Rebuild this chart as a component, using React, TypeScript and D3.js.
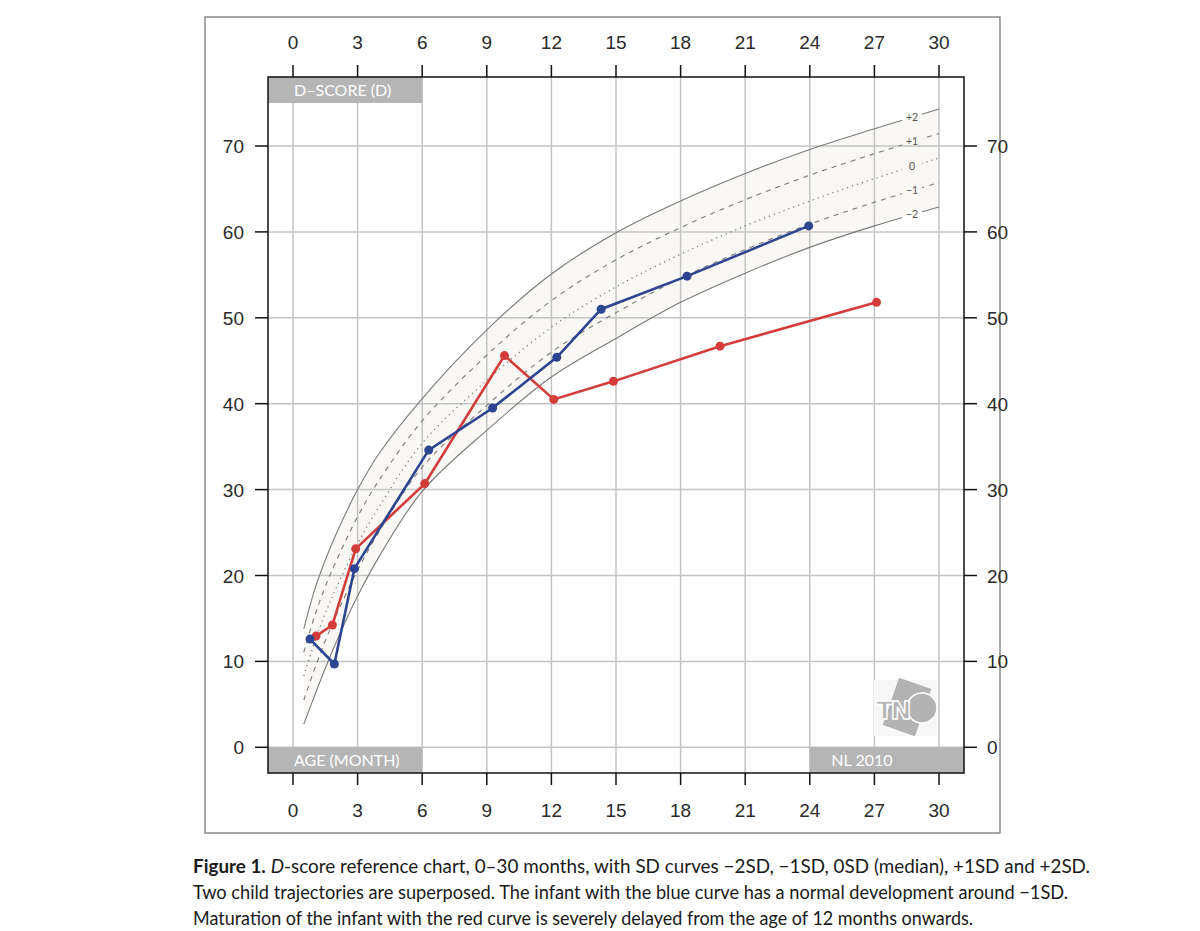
import React from "react";
import * as d3 from "d3";

// Reference curves (D-score by age in months), SD lines -2..+2
const refAges = [0.5, 1, 1.5, 2, 3, 4, 6, 9, 12, 15, 18, 21, 24, 27, 30];
const sdPlus2 = [13.8, 18.3, 21.8, 24.8, 30.0, 34.2, 40.6, 48.6, 55.1, 59.9, 63.6, 66.8, 69.6, 72.0, 74.3];
const sdPlus1 = [11.05, 15.25, 18.7, 21.65, 26.85, 31.1, 38.0, 45.65, 52.0, 56.75, 60.5, 63.75, 66.6, 69.1, 71.45];
const sdZero = [8.3, 12.2, 15.6, 18.5, 23.7, 28.0, 35.4, 42.7, 48.9, 53.6, 57.4, 60.7, 63.6, 66.2, 68.6];
const sdMinus1 = [5.5, 9.1, 12.4, 15.35, 20.6, 25.1, 32.6, 39.8, 46.0, 50.6, 54.6, 57.95, 60.9, 63.45, 65.75];
const sdMinus2 = [2.7, 6.0, 9.2, 12.2, 17.6, 22.2, 29.8, 36.9, 43.1, 47.6, 51.8, 55.2, 58.2, 60.7, 62.9];

// Child trajectories
const blueAges = [0.79, 1.92, 2.85, 6.3, 9.27, 12.25, 14.31, 18.3, 23.95];
const blueScores = [12.6, 9.7, 20.8, 34.6, 39.5, 45.4, 51.0, 54.85, 60.7];
const redAges = [1.07, 1.83, 2.91, 6.12, 9.82, 12.11, 14.88, 19.83, 27.1];
const redScores = [12.95, 14.24, 23.1, 30.7, 45.6, 40.5, 42.6, 46.7, 51.8];

// Axis ticks
const monthTicks = [0, 3, 6, 9, 12, 15, 18, 21, 24, 27, 30];
const scoreTicks = [0, 10, 20, 30, 40, 50, 60, 70];

const sdLabels = ["+2", "+1", "0", "\u22121", "\u22122"];
const captionLine2 = "Two child trajectories are superposed. The infant with the blue curve has a normal development around \u22121SD.";
const captionLine3 = "Maturation of the infant with the red curve is severely delayed from the age of 12 months onwards.";

const W = 1200;
const H = 931;
const box = { left: 268, right: 964, top: 77, bottom: 773 };
const x = d3.scaleLinear().domain([0, 30]).range([293, 939]);
const y = d3.scaleLinear().domain([0, 70]).range([747.3, 146]);

const BLUE = "#2d4590";
const RED = "#d43c3c";
const GRID = "#c4c4c4";
const CURVE = "#7a7a7a";
const LABEL_AGE = 28.75;
const tickFont = "'Liberation Sans', Arial, sans-serif";
const boxFont = "Lato, 'Open Sans', sans-serif";
const smooth = d3.curveCatmullRom.alpha(0.5);

function interp(vals: number[], age: number) {
  const i = d3.bisectRight(refAges, age) - 1;
  const a0 = refAges[i], a1 = refAges[i + 1];
  const t = (age - a0) / (a1 - a0);
  return vals[i] + t * (vals[i + 1] - vals[i]);
}

export default function App() {
  const sdSeries = [sdPlus2, sdPlus1, sdZero, sdMinus1, sdMinus2];
  const dashes = [null, "5,5", "1.2,4", "5,5", null];

  const lineGen = (vals: number[]) =>
    d3
      .line<number>()
      .x((_, i) => x(refAges[i]))
      .y((v) => y(v))
      .curve(smooth)(vals) || "";

  const band =
    d3
      .area<number>()
      .x((_, i) => x(refAges[i]))
      .y0((_, i) => y(sdMinus2[i]))
      .y1((v) => y(v))
      .curve(smooth)(sdPlus2) || "";

  const traj = (ages: number[], vals: number[]) =>
    d3
      .line<number>()
      .x((a) => x(a))
      .y((_, i) => y(vals[i]))(ages) || "";

  const labelPos = sdSeries.map((s) => ({ cx: x(LABEL_AGE), cy: y(interp(s, LABEL_AGE)) }));

  return (
    <svg
      width={W}
      height={H}
      style={{ position: "absolute", left: 0, top: 0, background: "#fff" }}
    >
      <defs>
        <mask id="labelGaps" maskUnits="userSpaceOnUse" x={0} y={0} width={W} height={H}>
          <rect x={0} y={0} width={W} height={H} fill="#fff" />
          {labelPos.map((p, i) => (
            <rect key={i} x={p.cx - 10} y={p.cy - 6} width={20} height={12} fill="#000" />
          ))}
        </mask>
        <clipPath id="plotClip">
          <rect x={box.left} y={box.top} width={box.right - box.left} height={box.bottom - box.top} />
        </clipPath>
      </defs>

      {/* outer frame */}
      <rect x={205} y={17} width={795} height={816} fill="none" stroke="#8a8a8a" strokeWidth={1.5} />

      {/* band between -2SD and +2SD */}
      <path d={band} fill="#f9f8f5" />

      {/* grid */}
      <g clipPath="url(#plotClip)">
        {monthTicks.map((m) => (
          <line key={"v" + m} x1={x(m)} x2={x(m)} y1={box.top} y2={box.bottom} stroke={GRID} strokeWidth={1.5} />
        ))}
        {scoreTicks.map((s) => (
          <line key={"h" + s} x1={box.left} x2={box.right} y1={y(s)} y2={y(s)} stroke={GRID} strokeWidth={1.5} />
        ))}
      </g>

      {/* gray corner boxes */}
      <rect x={box.left} y={box.top} width={x(6) - box.left} height={26} fill="#b5b5b5" />
      <text x={x(0) + 1} y={box.top + 18.5} fill="#fff" fontFamily={boxFont} fontSize={16}>
        D–SCORE (D)
      </text>
      <rect x={box.left} y={y(0)} width={x(6) - box.left} height={box.bottom - y(0)} fill="#b5b5b5" />
      <text x={x(0) + 1} y={y(0) + 19} fill="#fff" fontFamily={boxFont} fontSize={16}>
        AGE (MONTH)
      </text>
      <rect x={x(24)} y={y(0)} width={box.right - x(24)} height={box.bottom - y(0)} fill="#b5b5b5" />
      <text x={x(25)} y={y(0) + 19} fill="#fff" fontFamily={boxFont} fontSize={16}>
        NL 2010
      </text>

      {/* TNO mark */}
      <g>
        <rect x={874} y={680} width={63} height={56} fill="#f7f7f7" />
        <g transform="translate(907,707) rotate(19)">
          <rect x={-17} y={-25} width={34} height={50} fill="#b3b3b3" />
        </g>
        <circle cx={922} cy={708} r={15} fill="#b3b3b3" stroke="#fff" strokeWidth={1.5} />
        <text
          x={876}
          y={719}
          fontFamily="'DejaVu Sans', sans-serif"
          fontWeight="bold"
          fontSize={25}
          fill="#b3b3b3"
          stroke="#fff"
          strokeWidth={1.4}
          letterSpacing={-2.5}
        >
          TN
        </text>
      </g>

      {/* SD curves */}
      <g mask="url(#labelGaps)">
        {sdSeries.map((s, i) => (
          <path
            key={i}
            d={lineGen(s)}
            fill="none"
            stroke={CURVE}
            strokeWidth={i === 2 ? 1.3 : 1.1}
            strokeDasharray={dashes[i] || undefined}
          />
        ))}
      </g>
      {labelPos.map((p, i) => (
        <text
          key={i}
          x={p.cx}
          y={p.cy + 3.5}
          textAnchor="middle"
          fontFamily={boxFont}
          fontSize={10.5}
          fill="#555"
        >
          {sdLabels[i]}
        </text>
      ))}

      {/* child trajectories */}
      <g>
        <path d={traj(redAges, redScores)} fill="none" stroke={RED} strokeWidth={2.6} />
        {redAges.map((a, i) => (
          <circle key={i} cx={x(a)} cy={y(redScores[i])} r={4.5} fill={RED} />
        ))}
        <path d={traj(blueAges, blueScores)} fill="none" stroke={BLUE} strokeWidth={2.6} />
        {blueAges.map((a, i) => (
          <circle key={i} cx={x(a)} cy={y(blueScores[i])} r={4.5} fill={BLUE} />
        ))}
      </g>

      {/* plot frame */}
      <rect
        x={box.left}
        y={box.top}
        width={box.right - box.left}
        height={box.bottom - box.top}
        fill="none"
        stroke="#111"
        strokeWidth={1.5}
      />

      {/* axes */}
      <g fontFamily={tickFont} fontSize={19} fill="#2a2a2a">
        {monthTicks.map((m) => (
          <g key={"t" + m}>
            <line x1={x(m)} x2={x(m)} y1={box.top} y2={box.top - 12} stroke="#111" strokeWidth={1.5} />
            <text x={x(m)} y={49} textAnchor="middle">{m}</text>
            <line x1={x(m)} x2={x(m)} y1={box.bottom} y2={box.bottom + 12} stroke="#111" strokeWidth={1.5} />
            <text x={x(m)} y={817} textAnchor="middle">{m}</text>
          </g>
        ))}
        {scoreTicks.map((s) => (
          <g key={"s" + s}>
            <line x1={box.left} x2={box.left - 13} y1={y(s)} y2={y(s)} stroke="#111" strokeWidth={1.5} />
            <text x={244} y={y(s) + 7} textAnchor="end">{s}</text>
            <line x1={box.right} x2={box.right + 13} y1={y(s)} y2={y(s)} stroke="#111" strokeWidth={1.5} />
            <text x={987} y={y(s) + 7} textAnchor="start">{s}</text>
          </g>
        ))}
      </g>

      {/* caption */}
      <g fontFamily={boxFont} fontSize={18.5} fill="#1a1a1a">
        <text x={193} y={873} textLength={897} lengthAdjust="spacingAndGlyphs">
          <tspan fontWeight="bold">Figure 1.</tspan>
          <tspan> </tspan>
          <tspan fontStyle="italic">D</tspan>
          <tspan>-score reference chart, 0–30 months, with SD curves −2SD, −1SD, 0SD (median), +1SD and +2SD.</tspan>
        </text>
        <text x={193} y={899} textLength={875} lengthAdjust="spacingAndGlyphs">
          {captionLine2}
        </text>
        <text x={193} y={925} textLength={780} lengthAdjust="spacingAndGlyphs">
          {captionLine3}
        </text>
      </g>
    </svg>
  );
}
